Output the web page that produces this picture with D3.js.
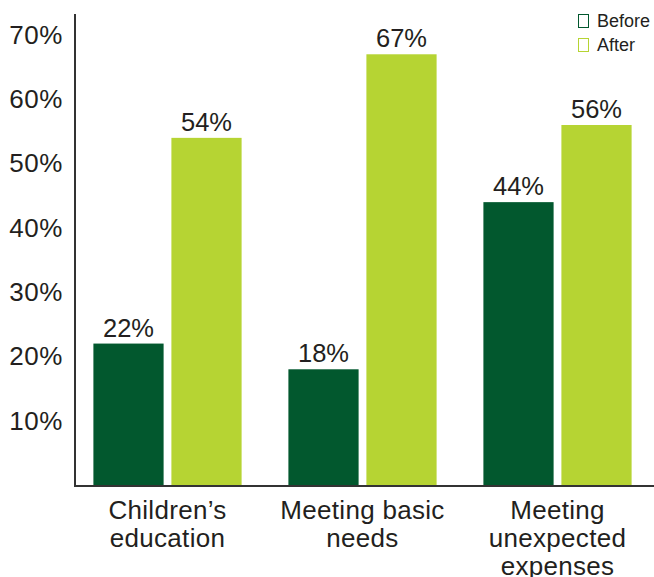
<!DOCTYPE html>
<html lang="en">
<head>
    <meta charset="utf-8">
    <title>Before / After</title>
    <style>
        body { margin: 0; background: #fff; }
        text { font-family: "Liberation Sans", Arial, sans-serif; fill: #231f20; }
    </style>
</head>
<body>
    <svg id="chart" width="654" height="577"></svg>
    <script src="https://cdn.jsdelivr.net/npm/d3@7"></script>
    <script>
        const categories = [["Children\u2019s", "education"], ["Meeting basic", "needs"], ["Meeting", "unexpected", "expenses"]];
        const seriesNames = ["Before", "After"];
        const before = [22, 18, 44];
        const after = [54, 67, 56];
        const yTicks = [10, 20, 30, 40, 50, 60, 70];
        const colors = ["#02582e", "#b6d433"];

        const svg = d3.select("#chart");
        const keys = categories.map(c => c.join(" "));

        const y = d3.scaleLinear().domain([0, 70]).range([485, 35]);
        const x0 = d3.scaleBand().domain(keys).range([70, 655]).paddingInner(0.24).paddingOuter(0.12);
        const x1 = d3.scaleBand().domain(seriesNames).range([0, x0.bandwidth()]).paddingInner(0.1);
        const color = d3.scaleOrdinal().domain(seriesNames).range(colors);

        const rows = keys.map((k, i) => ({ key: k, values: [before[i], after[i]] }));

        // bars
        const groups = svg.append("g").selectAll("g")
            .data(rows)
            .join("g")
                .attr("transform", d => `translate(${x0(d.key)},0)`);

        groups.selectAll("rect")
            .data(d => d.values.map((v, j) => ({ s: seriesNames[j], v })))
            .join("rect")
                .attr("x", d => x1(d.s))
                .attr("y", d => y(d.v))
                .attr("width", x1.bandwidth())
                .attr("height", d => y(0) - y(d.v))
                .attr("fill", d => color(d.s));

        groups.selectAll("text")
            .data(d => d.values.map((v, j) => ({ s: seriesNames[j], v })))
            .join("text")
                .attr("x", d => x1(d.s) + x1.bandwidth() / 2)
                .attr("y", d => y(d.v) - 7)
                .attr("text-anchor", "middle")
                .attr("font-size", 25.5)
                .text(d => d.v + "%");

        // y axis
        const yAxis = svg.append("g")
            .attr("transform", "translate(75,0)")
            .call(d3.axisLeft(y).tickValues(yTicks).tickSize(0).tickPadding(12).tickFormat(d => d + "%"));
        yAxis.select(".domain").remove();
        yAxis.selectAll("text")
            .attr("font-size", 26)
            .attr("letter-spacing", 0.6)
            .attr("font-family", "Liberation Sans, Arial, sans-serif")
            .attr("fill", "#231f20");

        svg.append("line")
            .attr("x1", 75).attr("x2", 75)
            .attr("y1", 14).attr("y2", y(0) + 1)
            .attr("stroke", "#333").attr("stroke-width", 2);

        svg.append("line")
            .attr("x1", 74).attr("x2", 654)
            .attr("y1", y(0) + 1).attr("y2", y(0) + 1)
            .attr("stroke", "#333").attr("stroke-width", 2);

        // category labels
        svg.append("g").selectAll("text")
            .data(categories)
            .join("text")
                .attr("x", (d, i) => x0(keys[i]) + x0.bandwidth() / 2)
                .attr("y", 519)
                .attr("text-anchor", "middle")
                .attr("font-size", 26)
                .attr("letter-spacing", 0.3)
                .selectAll("tspan")
                .data(d => d)
                .join("tspan")
                    .attr("x", function () { return this.parentNode.getAttribute("x"); })
                    .attr("dy", (d, i) => i === 0 ? 0 : 28)
                    .text(d => d);

        // legend
        const legend = svg.append("g").selectAll("g")
            .data(seriesNames)
            .join("g")
                .attr("transform", (d, i) => `translate(578,${14 + i * 24})`);
        legend.append("rect")
            .attr("x", 0.5).attr("y", 0.5)
            .attr("width", 10).attr("height", 13)
            .attr("fill", "none")
            .attr("stroke", d => color(d))
            .attr("stroke-width", 1);
        legend.append("text")
            .attr("x", 19).attr("y", 13)
            .attr("font-size", 18)
            .text(d => d);
    </script>
</body>
</html>
